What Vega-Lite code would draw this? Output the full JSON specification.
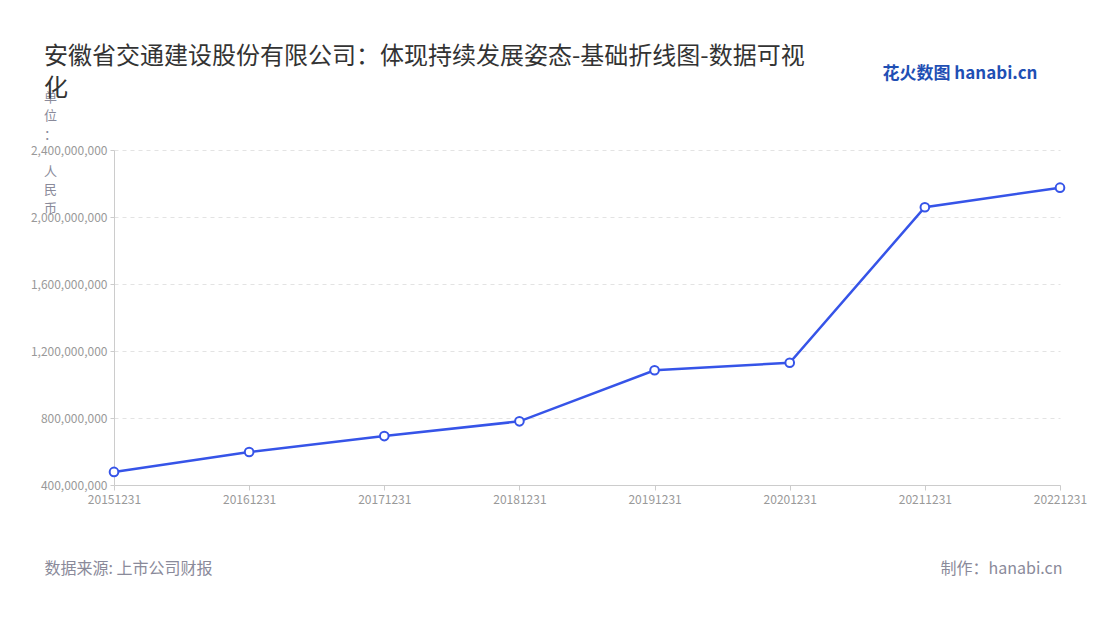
{
  "$schema": "https://vega.github.io/schema/vega-lite/v6.json",
  "width": 946,
  "height": 335,
  "autosize": "none",
  "padding": {"left": 114, "top": 150, "right": 40, "bottom": 135},
  "background": "#ffffff",
  "config": {
    "font": "Noto Sans CJK SC",
    "view": {"stroke": null}
  },
  "title": {
    "text": ["安徽省交通建设股份有限公司：体现持续发展姿态-基础折线图-数据可视", "化"],
    "anchor": "start",
    "frame": "group",
    "dx": -70,
    "dy": 37,
    "fontSize": 24,
    "fontWeight": "normal",
    "color": "#333333",
    "lineHeight": 32,
    "offset": 0
  },
  "data": {
    "values": [
      {"date": "20151231", "value": 478000000},
      {"date": "20161231", "value": 597000000},
      {"date": "20171231", "value": 692000000},
      {"date": "20181231", "value": 780000000},
      {"date": "20191231", "value": 1085000000},
      {"date": "20201231", "value": 1130000000},
      {"date": "20211231", "value": 2058000000},
      {"date": "20221231", "value": 2175000000}
    ]
  },
  "layer": [
    {
      "mark": {
        "type": "line",
        "color": "#3654e8",
        "strokeWidth": 2.5,
        "point": {"filled": true, "fill": "#ffffff", "stroke": "#3654e8", "strokeWidth": 2, "size": 75, "opacity": 1}
      },
      "encoding": {
        "x": {
          "field": "date",
          "type": "ordinal",
          "sort": null,
          "scale": {"type": "point", "padding": 0},
          "axis": {
            "labelAngle": 0,
            "labelColor": "#999999",
            "labelFontSize": 12,
            "labelPadding": 4,
            "domainColor": "#cccccc",
            "tickColor": "#cccccc",
            "tickSize": 5,
            "grid": false,
            "title": "数据来源: 上市公司财报",
            "titleFontSize": 16,
            "titleFontWeight": "normal",
            "titleColor": "#8a8a9a",
            "titleAnchor": "start",
            "titleAlign": "left",
            "titleBaseline": "alphabetic",
            "titleX": -70,
            "titleY": 88
          }
        },
        "y": {
          "field": "value",
          "type": "quantitative",
          "scale": {"domain": [400000000, 2400000000]},
          "axis": {
            "values": [400000000, 800000000, 1200000000, 1600000000, 2000000000, 2400000000],
            "format": ",d",
            "labelColor": "#999999",
            "labelFontSize": 12,
            "labelPadding": 3,
            "domainColor": "#cccccc",
            "tickColor": "#cccccc",
            "tickSize": 4,
            "gridColor": "#e3e3e3",
            "gridDash": [4, 4],
            "title": ["单", "位", "：", "\u2800", "人", "民", "币"],
            "titleAngle": 0,
            "titleFontSize": 13,
            "titleFontWeight": "normal",
            "titleColor": "#8a8a9a",
            "titleAlign": "center",
            "titleBaseline": "middle",
            "titleLineHeight": 18.5,
            "titleX": -64,
            "titleY": -53
          }
        }
      }
    },
    {
      "mark": {"type": "point", "opacity": 0},
      "encoding": {
        "x": {
          "field": "date",
          "type": "ordinal",
          "sort": null,
          "axis": {
            "orient": "top",
            "domain": false,
            "ticks": false,
            "labels": false,
            "grid": false,
            "title": "花火数图 hanabi.cn",
            "titleFontSize": 17,
            "titleFontWeight": "bold",
            "titleColor": "#1f4fb4",
            "titleAlign": "right",
            "titleAnchor": "start",
            "titleBaseline": "middle",
            "titleX": 923,
            "titleY": -77
          }
        },
        "y": {
          "field": "value",
          "type": "quantitative",
          "axis": {
            "orient": "right",
            "domain": false,
            "ticks": false,
            "labels": false,
            "grid": false,
            "title": "制作：hanabi.cn",
            "titleAngle": 0,
            "titleFontSize": 16,
            "titleFontWeight": "normal",
            "titleColor": "#8a8a9a",
            "titleAlign": "right",
            "titleBaseline": "alphabetic",
            "titleX": 2,
            "titleY": 423
          }
        }
      }
    }
  ],
  "resolve": {"axis": {"x": "independent", "y": "independent"}}
}
